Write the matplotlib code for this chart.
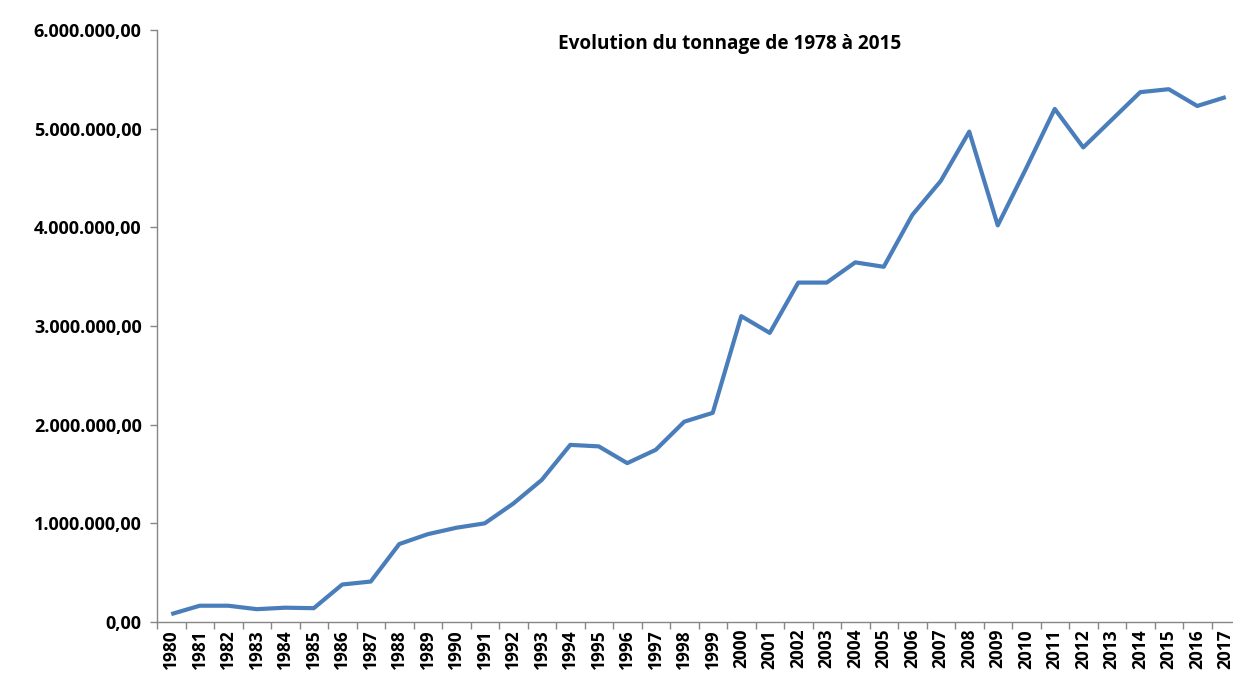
import matplotlib
matplotlib.use("Agg")
import matplotlib.pyplot as plt
from matplotlib.ticker import FixedLocator, FuncFormatter

years = list(range(1980, 2018))
tonnage = [80000, 165000, 165000, 130000, 145000, 140000, 380000, 410000,
           790000, 890000, 955000, 1000000, 1200000, 1440000, 1795000, 1780000,
           1610000, 1745000, 2030000, 2120000, 3100000, 2930000, 3440000, 3440000,
           3645000, 3600000, 4125000, 4470000, 4970000, 4020000, 4600000, 5200000,
           4810000, 5090000, 5370000, 5400000, 5230000, 5320000]
title = "Evolution du tonnage de 1978 à 2015"

plt.rcParams['font.family'] = ['Open Sans', 'DejaVu Sans']

W, H = 1233, 677
fig = plt.figure(figsize=(W / 100, H / 100), dpi=100)
x0, x1, y0, y1 = 157, 1240, 30, 622
ax = fig.add_axes([x0 / W, 1 - y1 / H, (x1 - x0) / W, (y1 - y0) / H])

xs = list(range(len(years)))
ax.plot(xs, tonnage, color='#4A7EBB', lw=3.0, solid_joinstyle='round', solid_capstyle='butt')

ax.set_xlim(-0.5, len(years) - 0.5)
ax.set_ylim(0, 6000000)

ax.set_yticks([i * 1000000 for i in range(7)])
ax.yaxis.set_major_formatter(FuncFormatter(
    lambda v, p: f"{v:,.2f}".replace(",", "X").replace(".", ",").replace("X", ".")))
ax.set_xticks(xs)
ax.set_xticklabels([str(y) for y in years], rotation=90)
ax.xaxis.set_minor_locator(FixedLocator([i - 0.5 for i in range(len(years) + 1)]))

ax.tick_params(axis='x', which='major', length=0, pad=5, labelsize=12.5)
ax.tick_params(axis='x', which='minor', length=5, color='#868686', width=1)
ax.tick_params(axis='y', which='major', length=5, color='#868686', width=1, pad=6, labelsize=13)
for lab in ax.get_xticklabels() + ax.get_yticklabels():
    lab.set_fontweight('bold')

for s in ['top', 'right']:
    ax.spines[s].set_visible(False)
for s in ['left', 'bottom']:
    ax.spines[s].set_color('#868686')
    ax.spines[s].set_linewidth(1)

fig.text(730 / W, 1 - 44 / H, title, ha='center', va='center', fontsize=13.7, fontweight='bold')

fig.savefig('out.png', dpi=100)
